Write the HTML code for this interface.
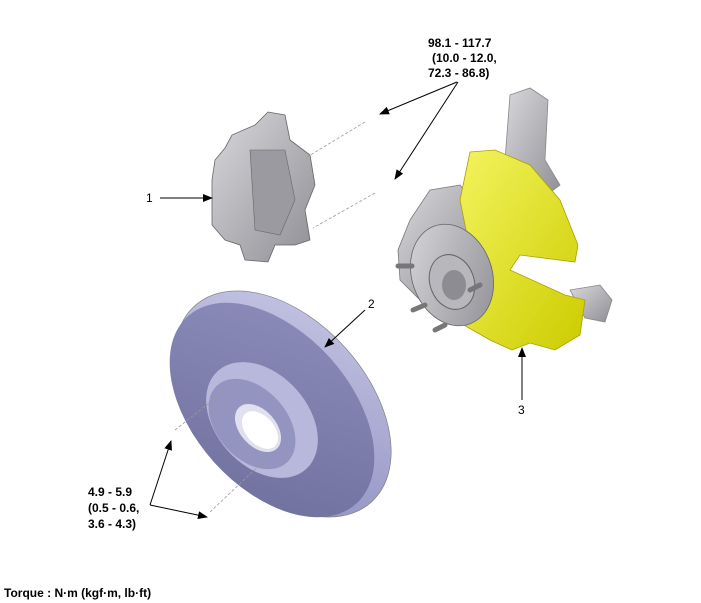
<!DOCTYPE html>
<html><head><style>
html,body{margin:0;padding:0;background:#fff;width:701px;height:603px;overflow:hidden}
svg{display:block}
text{font-family:"Liberation Sans",Arial,sans-serif;font-size:12px;fill:#000}
.b{font-weight:bold}
</style></head><body>
<svg width="701" height="603" viewBox="0 0 701 603">
<defs>
<marker id="a" markerWidth="10" markerHeight="8" refX="9" refY="4" orient="auto" markerUnits="userSpaceOnUse">
<path d="M0,0 L10,4 L0,8 Z" fill="#000"/></marker>
<linearGradient id="rim" x1="0" y1="0" x2="1" y2="1"><stop offset="0" stop-color="#c8c8e6"/><stop offset="1" stop-color="#8e8ec0"/></linearGradient>
<linearGradient id="face" x1="0" y1="0" x2="1" y2="1"><stop offset="0" stop-color="#8e8ebc"/><stop offset="1" stop-color="#6e6e9c"/></linearGradient>
<linearGradient id="gr" x1="0" y1="0" x2="1" y2="1"><stop offset="0" stop-color="#d8d8dc"/><stop offset="1" stop-color="#8e8e94"/></linearGradient>
<linearGradient id="ye" x1="0" y1="0" x2="1" y2="1"><stop offset="0" stop-color="#f4f460"/><stop offset="1" stop-color="#cccc00"/></linearGradient>
</defs>

<path d="M510,95 L530,88 L548,100 L545,160 L560,185 L540,200 L520,170 L505,160 Z" fill="url(#gr)" stroke="#888" stroke-width="0.8"/>
<path d="M570,290 L600,285 L612,300 L605,322 L585,318 Z" fill="url(#gr)" stroke="#888" stroke-width="0.8"/>
<path d="M430,190 L460,185 L480,210 L475,250 L450,290 L420,300 L400,280 L398,250 L410,220 Z" fill="url(#gr)" stroke="#777" stroke-width="0.8"/>
<path d="M470,152 L495,150 L530,165 L560,200 L578,245 L575,262 L520,255 L510,270 L565,295 L585,300 L580,335 L555,350 L530,343 L512,350 L490,340 L455,320 L465,290 L470,250 L460,200 Z" fill="url(#ye)" stroke="#aaa000" stroke-width="0.8"/>
<ellipse cx="452" cy="275" rx="40" ry="52" transform="rotate(-20 452 275)" fill="url(#gr)" stroke="#666" stroke-width="0.8"/>
<ellipse cx="452" cy="282" rx="22" ry="28" transform="rotate(-20 452 282)" fill="#b8b8bc" stroke="#666"/>
<ellipse cx="454" cy="285" rx="12" ry="15" fill="#8c8c92"/>
<g stroke="#777" stroke-width="5" stroke-linecap="round">
<line x1="412" y1="266" x2="398" y2="266"/><line x1="425" y1="305" x2="413" y2="310"/><line x1="445" y1="325" x2="435" y2="330"/><line x1="470" y1="290" x2="480" y2="285"/></g>

<path d="M225,148 L232,135 L255,125 L268,112 L285,115 L290,140 L310,155 L315,185 L305,210 L310,240 L295,245 L275,245 L268,262 L245,260 L240,245 L225,240 L212,225 L212,180 L215,160 Z" fill="url(#gr)" stroke="#666" stroke-width="0.8"/>
<path d="M250,150 L285,150 L295,200 L280,235 L255,230 Z" fill="#9a9aa0" stroke="#666" stroke-width="0.6"/>

<ellipse cx="283" cy="404" rx="132" ry="84" transform="rotate(48 283 404)" fill="url(#rim)" stroke="#777" stroke-width="0.6"/>
<ellipse cx="272" cy="410" rx="126" ry="78" transform="rotate(48 272 410)" fill="url(#face)"/>
<ellipse cx="262" cy="420" rx="66" ry="46" transform="rotate(48 262 420)" fill="#b8b8dc"/>
<ellipse cx="252" cy="424" rx="52" ry="35" transform="rotate(48 252 424)" fill="#9494c0"/>
<ellipse cx="258" cy="428" rx="28" ry="18" transform="rotate(48 258 428)" fill="#e0e0ee"/>
<ellipse cx="260" cy="430" rx="22" ry="14" transform="rotate(48 260 430)" fill="#fff"/>

<g stroke="#999" stroke-width="0.8" stroke-dasharray="3,2">
<line x1="365" y1="122" x2="307" y2="157"/><line x1="375" y1="193" x2="313" y2="228"/>
<line x1="175" y1="430" x2="232" y2="385"/><line x1="210" y1="512" x2="265" y2="460"/></g>

<g stroke="#000" stroke-width="1" fill="none" marker-end="url(#a)">
<line x1="457" y1="82" x2="380" y2="114"/><line x1="458" y1="82" x2="395" y2="179"/>
<line x1="160" y1="198" x2="212" y2="198"/>
<line x1="365" y1="310" x2="325" y2="347"/>
<line x1="522" y1="400" x2="522" y2="348"/>
<line x1="150" y1="505" x2="171" y2="441"/><line x1="150" y1="505" x2="207" y2="517"/></g>

<text class="b" x="428" y="47">98.1 - 117.7</text>
<text class="b" x="432" y="62">(10.0 - 12.0,</text>
<text class="b" x="428" y="77">72.3 - 86.8)</text>
<text x="146" y="202">1</text>
<text x="368" y="308">2</text>
<text x="518" y="414">3</text>
<text class="b" x="88" y="496">4.9 - 5.9</text>
<text class="b" x="88" y="512">(0.5 - 0.6,</text>
<text class="b" x="88" y="528">3.6 - 4.3)</text>
<text class="b" x="4" y="597">Torque : N·m (kgf·m, lb·ft)</text>
</svg>
</body></html>
